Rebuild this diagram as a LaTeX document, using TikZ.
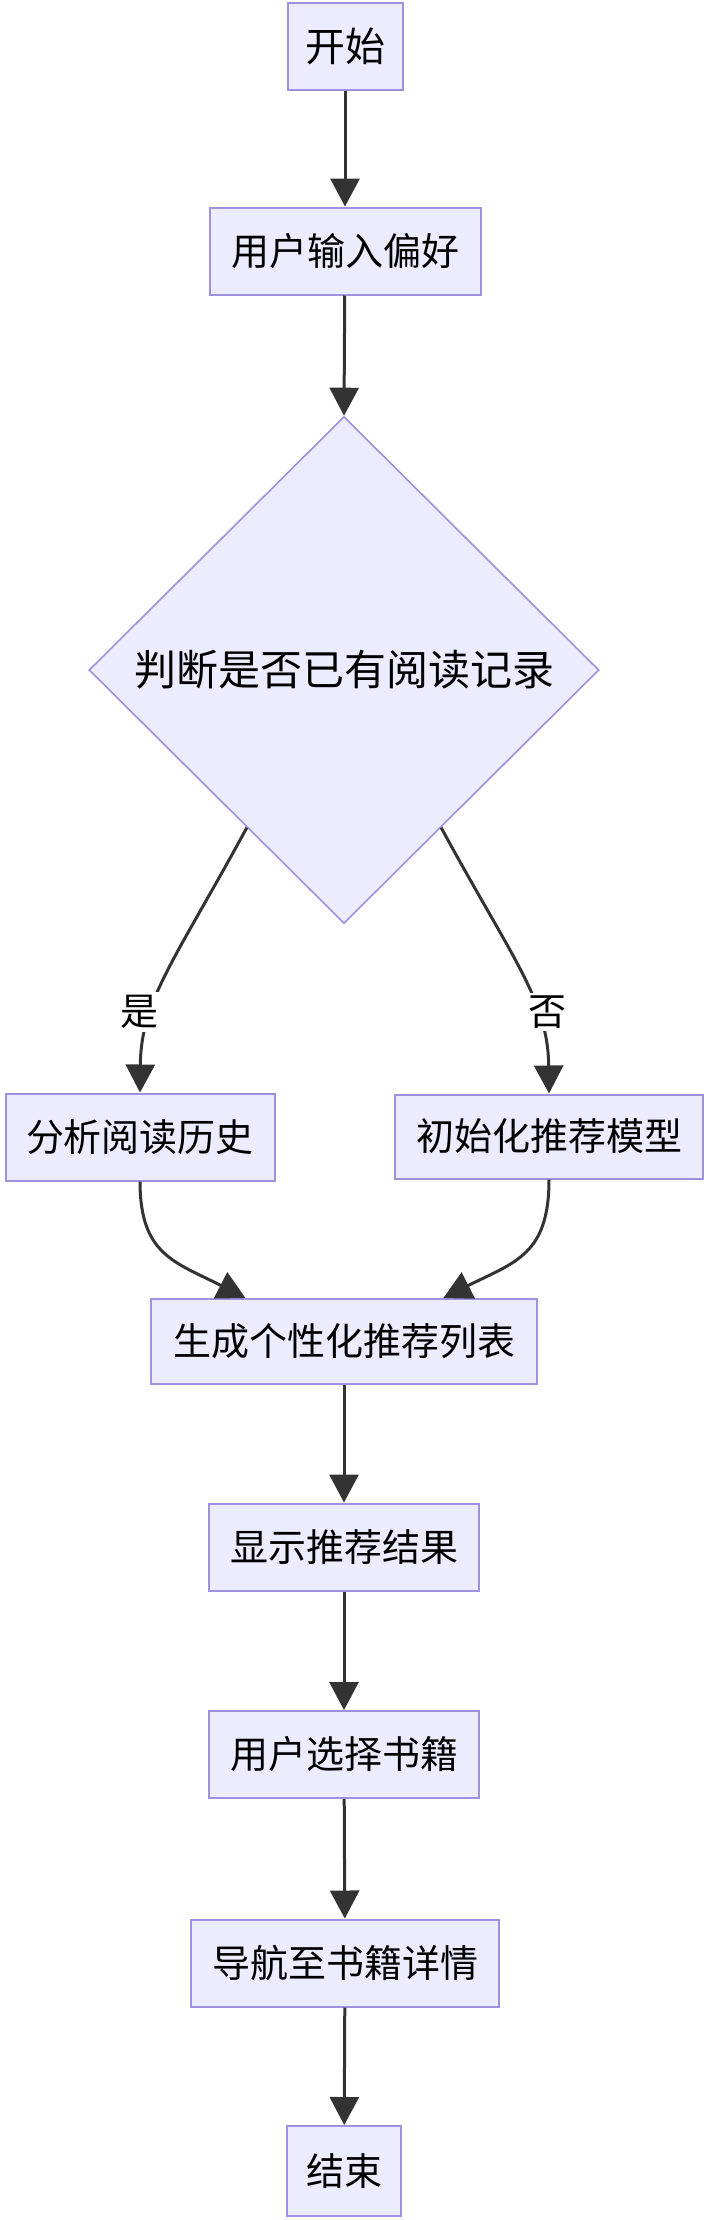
\documentclass[tikz,border=0pt]{standalone}
\usepackage{fontspec}
\setmainfont{Noto Sans CJK SC}
\usetikzlibrary{arrows.meta,shapes.geometric,calc}
\definecolor{nodefill}{HTML}{ECECFF}
\definecolor{nodeline}{HTML}{A090E0}
\definecolor{edgecol}{HTML}{333333}
\begin{document}
\begin{tikzpicture}[x=1pt,y=-1pt,
  box/.style={draw=nodeline, fill=nodefill, line width=2pt, minimum height=87pt, inner sep=0pt, font=\fontsize{38}{40}\selectfont},
  decision/.style={diamond, draw=nodeline, fill=nodefill, line width=1.6pt, minimum width=510pt, minimum height=507pt, inner sep=0pt, font=\fontsize{42}{44}\selectfont},
  edge/.style={draw=edgecol, line width=3pt, -{Triangle[length=28pt,width=29pt]}},
  lab/.style={fill=white, inner sep=3pt, font=\fontsize{38}{40}\selectfont}]
\useasboundingbox (0,0) rectangle (709,2220);
\fill[white] (0,0) rectangle (709,2220);

\node[box, minimum width=115pt, font=\fontsize{40}{42}\selectfont] (start) at (345,46) {开始};
\node[box, minimum width=271pt] (pref) at (345,251) {用户输入偏好};
\node[decision] (dec) at (344,670) {判断是否已有阅读记录};
\node[box, minimum width=269pt] (hist) at (140,1137) {分析阅读历史};
\node[box, minimum width=308pt, minimum height=84pt] (init) at (549,1136.5) {初始化推荐模型};
\node[box, minimum width=386pt, minimum height=85pt] (gen) at (344,1341.5) {生成个性化推荐列表};
\node[box, minimum width=270pt] (show) at (344,1547) {显示推荐结果};
\node[box, minimum width=270pt] (sel) at (344,1754.5) {用户选择书籍};
\node[box, minimum width=308pt] (nav) at (345,1963) {导航至书籍详情};
\node[box, minimum width=114pt, minimum height=90pt] (end) at (344,2171) {结束};

\coordinate (dl) at ($(dec.south)!0.38!(dec.west)$);
\coordinate (dr) at ($(dec.south)!0.38!(dec.east)$);
\coordinate (gl) at ($(gen.north west)!0.246!(gen.north east)$);
\coordinate (gr) at ($(gen.north west)!0.756!(gen.north east)$);

\draw[edge] (start) -- (pref);
\draw[edge] (pref) -- (dec.north);
\draw[edge] (dl) .. controls (175,960) and (141,1000) .. (hist.north);
\draw[edge] (dr) .. controls (513,960) and (548,1000) .. (init.north);
\node[lab] (yes) at (139,1012) {是};
\node[lab] (no) at (547,1012) {否};
\draw[edge] (hist.south) .. controls (140,1255) and (175,1262) .. (gl);
\draw[edge] (init.south) .. controls (549,1255) and (515,1262) .. (gr);
\draw[edge] (gen) -- (show);
\draw[edge] (show) -- (sel);
\draw[edge] (sel) -- (nav);
\draw[edge] (nav) -- (end);
\end{tikzpicture}
\end{document}
